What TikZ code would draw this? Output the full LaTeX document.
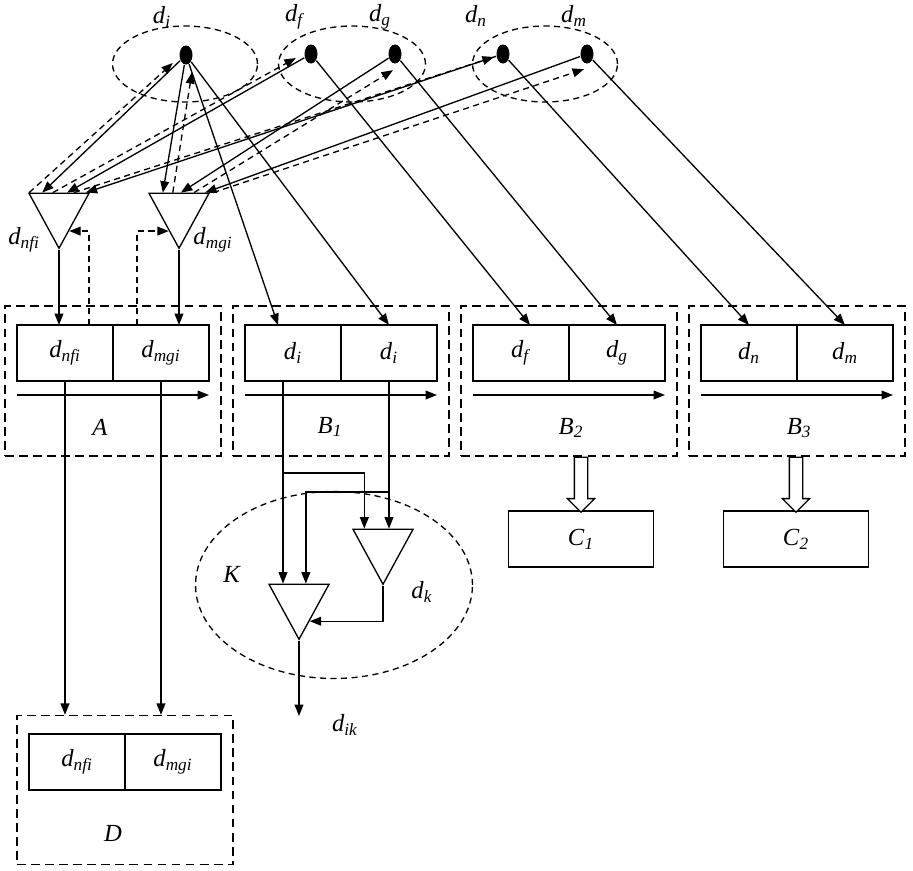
\documentclass[tikz,border=0pt]{standalone}
\usepackage{fontspec}
\setmainfont{Liberation Serif}
\usepackage{tikz}
\usetikzlibrary{arrows.meta, positioning, shapes.geometric, shapes.arrows, calc}
\newcommand{\dsub}[1]{\textit{d}\textsubscript{\textit{#1}}}

\begin{document}
\begin{tikzpicture}[
    x=0.02cm, y=-0.02cm,
    font=\fontsize{14}{16}\selectfont,
    line width=0.75pt,
    dot/.style={ellipse, fill=black, inner sep=0pt, minimum width=0.26cm, minimum height=0.38cm},
    ring/.style={ellipse, draw, dash pattern=on 3.5pt off 2.5pt, inner sep=0pt},
    toplbl/.style={font=\fontsize{14}{16}\selectfont},
    tri/.style={isosceles triangle, isosceles triangle stretches, shape border rotate=270,
        draw, inner sep=0pt, minimum width=1.2cm, minimum height=1.1cm},
    group/.style={draw, dash pattern=on 5pt off 3pt, minimum width=4.32cm,
        minimum height=3cm, inner sep=0pt},
    cell/.style={draw, minimum width=1.92cm, minimum height=1.12cm, inner sep=0pt, outer sep=0pt},
    cbox/.style={draw, minimum width=2.9cm, minimum height=1.12cm, inner sep=0pt},
    hollow/.style={single arrow, draw, fill=white, rotate=-90, inner sep=0.12cm,
        single arrow head extend=0.14cm, minimum height=1.1cm, minimum width=0.52cm},
    arr/.style={-{Triangle[length=6.5pt, width=5pt]}},
    darr/.style={arr, dash pattern=on 3.5pt off 2.5pt}
]
\useasboundingbox (0,0) rectangle (913,870);

% Data items and their groups
\node[ring, minimum width=2.9cm, minimum height=1.52cm] (ri) at (185,64) {};
\node[ring, minimum width=2.94cm, minimum height=1.52cm] (rfg) at (352,64) {};
\node[ring, minimum width=2.9cm, minimum height=1.52cm] (rnm) at (545,64) {};

\node[dot] (di) at (186,55) {};
\node[dot] (df) at (311,54) {};
\node[dot] (dg) at (395,54) {};
\node[dot] (dn) at (503,54) {};
\node[dot] (dm) at (587,54) {};

\node[toplbl] (ldi) at (162,17) {\dsub{i}};
\node[toplbl] (ldf) at (295,17) {\dsub{f}};
\node[toplbl] (ldg) at (380,17) {\dsub{g}};
\node[toplbl] (ldn) at (476,16) {\dsub{n}};
\node[toplbl] (ldm) at (574,16) {\dsub{m}};

% Combining triangles
\node[tri, anchor=apex] (tnf) at (59,250) {};
\node[tri, anchor=apex] (tmg) at (179,250) {};
\node (lnf) at (24,240) {\dsub{nfi}};
\node (lmg) at (213,240) {\dsub{mgi}};

% Groups A, B1, B2, B3
\node[group] (ga) at (113,381) {};
\node[group] (gb1) at (341,381) {};
\node[group] (gb2) at (569,381) {};
\node[group] (gb3) at (797,381) {};

\node[cell] (a1) at (65,353) {\dsub{nfi}};
\node[cell, right=0pt of a1] (a2) {\dsub{mgi}};
\node[cell] (b1a) at (293,353) {\dsub{i}};
\node[cell, right=0pt of b1a] (b1b) {\dsub{i}};
\node[cell] (b2a) at (521,353) {\dsub{f}};
\node[cell, right=0pt of b2a] (b2b) {\dsub{g}};
\node[cell] (b3a) at (749,353) {\dsub{n}};
\node[cell, right=0pt of b3a] (b3b) {\dsub{m}};

\node (la) at (100,427) {\textit{A}};
\node (lb1) at (330,427) {\textit{B}\textsubscript{\textit{1}}};
\node (lb2) at (571,428) {\textit{B}\textsubscript{\textit{2}}};
\node (lb3) at (799,428) {\textit{B}\textsubscript{\textit{3}}};

\draw[arr] ([yshift=-0.28cm]a1.south west) -- ([yshift=-0.28cm]a2.south east);
\draw[arr] ([yshift=-0.28cm]b1a.south west) -- ([yshift=-0.28cm]b1b.south east);
\draw[arr] ([yshift=-0.28cm]b2a.south west) -- ([yshift=-0.28cm]b2b.south east);
\draw[arr] ([yshift=-0.28cm]b3a.south west) -- ([yshift=-0.28cm]b3b.south east);

% C boxes
\node[cbox] (c1) at (581,539) {\textit{C}\textsubscript{\textit{1}}};
\node[cbox] (c2) at (796,539) {\textit{C}\textsubscript{\textit{2}}};
\node[hollow, anchor=tail] (h1) at (c1.north |- gb2.south) {};
\node[hollow, anchor=tail] (h2) at (c2.north |- gb3.south) {};

% Group D
\node[group, minimum height=2.98cm] (dbox) at (125,790) {};
\node[cell] (d1) at (77,762) {\dsub{nfi}};
\node[cell, right=0pt of d1] (d2) {\dsub{mgi}};
\node (ld) at (113,833) {\textit{D}};

% K
\node[ring, minimum width=5.54cm, minimum height=3.74cm] (kring) at (334,585) {};
\node[tri, anchor=apex] (tk) at (383,586) {};
\node[tri, anchor=apex] (tik) at (299,641) {};
\node (lk) at (232,574) {\textit{K}};
\node (ldk) at (422,592) {\dsub{k}};
\node (ldik) at (345,725) {\dsub{ik}};

% Dots <-> triangles
\draw[arr] (di) -- ($(tnf.right corner)!0.23!(tnf.left corner)$);
\draw[darr] ($(tnf.right corner)!0.02!(tnf.left corner)$) -- ([shift={(-6,8)}]di.west);
\draw[arr] (df) -- ($(tnf.right corner)!0.63!(tnf.left corner)$);
\draw[darr] ($(tnf.right corner)!0.4!(tnf.left corner)$) -- ([shift={(-8,4)}]df.west);
\draw[arr] (dn) -- ($(tnf.right corner)!0.93!(tnf.left corner)$);
\draw[darr] ($(tnf.right corner)!0.74!(tnf.left corner)$) -- ([shift={(-2,3)}]dn.west);

\draw[arr] (di) -- ($(tmg.right corner)!0.24!(tmg.left corner)$);
\draw[darr] ($(tmg.right corner)!0.4!(tmg.left corner)$) -- ([shift={(6,7)}]di.south);
\draw[arr] (dg) -- ($(tmg.right corner)!0.53!(tmg.left corner)$);
\draw[darr] ($(tmg.right corner)!0.74!(tmg.left corner)$) -- ([shift={(-2,6)}]dg.south);
\draw[arr] (dm) -- ($(tmg.right corner)!0.92!(tmg.left corner)$);
\draw[darr] ([xshift=0.06cm]tmg.left corner) -- ([shift={(-3,5)}]dm.south);

% Dots -> B cells
\draw[arr] (di) -- ([xshift=-0.3cm]b1a.north);
\draw[arr] (di) -- (b1b.north);
\draw[arr] (df) -- ([xshift=0.18cm]b2a.north);
\draw[arr] (dg) -- (b2b.north);
\draw[arr] (dn) -- (b3a.north);
\draw[arr] (dm) -- (b3b.north);

% Triangles -> A, feedback
\draw[arr] (tnf.apex) -- (tnf.apex |- a1.north);
\draw[arr] (tmg.apex) -- (tmg.apex |- a2.north);
\draw[darr] ([xshift=0.48cm]a1.north) |- ($(tnf.apex)!0.33!(tnf.left corner)$);
\draw[darr] ([xshift=-0.48cm]a2.north) |- ($(tmg.apex)!0.33!(tmg.right corner)$);

% A -> D
\draw[arr] (a1.south) -- (a1.south |- dbox.north);
\draw[arr] (a2.south) -- (a2.south |- dbox.north);

% B1 -> K
\coordinate (brA) at ($(b1a.south)+(-10,92)$);
\coordinate (brB) at ($(b1b.south)+(0,111)$);
\draw[arr] ([xshift=-0.2cm]b1a.south) -- ([xshift=-0.2cm]b1a.south |- tik.left corner);
\draw[arr] (brA) -| ($(tk.right corner)!0.2!(tk.left corner)$);
\draw[arr] (b1b.south) -- (b1b.south |- tk.left corner);
\draw[arr] (brB) -| ($(tik.right corner)!0.61!(tik.left corner)$);
\draw[arr] (tk.apex) |- ($(tik.apex)!0.345!(tik.left corner)$);
\coordinate (ikout) at ($(tik.apex)+(0,75)$);
\draw[arr] (tik.apex) -- (ikout);

\end{tikzpicture}
\end{document}
